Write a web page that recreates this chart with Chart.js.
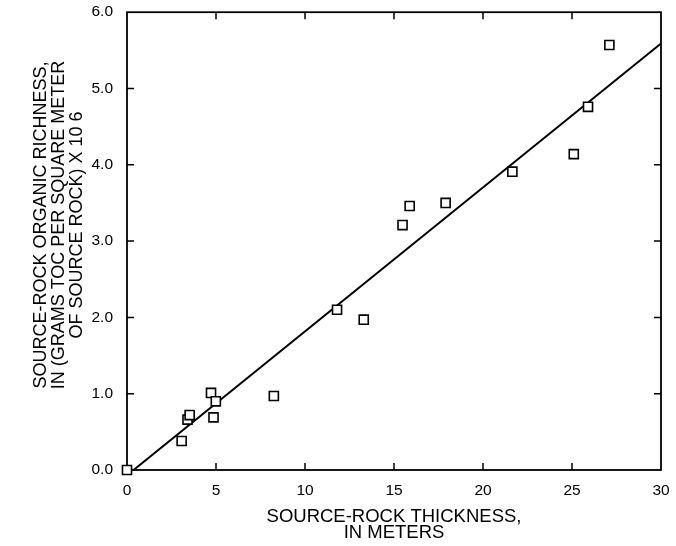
<!DOCTYPE html>
<html><head><meta charset="utf-8">
<script src="https://cdn.jsdelivr.net/npm/chart.js@4.4.0/dist/chart.umd.min.js"></script>
<style>html,body{margin:0;padding:0;background:#fff;}#wrap{width:676px;height:546px;}</style>
</head><body><div id="wrap"><canvas id="c" width="676" height="546"></canvas></div>
<script>
// Data
const thickness = [0, 3.07, 3.4, 3.52, 4.72, 4.86, 4.99, 8.25, 11.8, 13.3, 15.48, 15.88, 17.9, 21.65, 25.1, 25.9, 27.1];
const richness  = [0, 0.38, 0.66, 0.72, 1.01, 0.69, 0.90, 0.97, 2.1, 1.97, 3.21, 3.46, 3.50, 3.91, 4.14, 4.76, 5.57];
const fitX = [0.37, 30];
const fitY = [0, 5.59];
const xTicks = [0, 5, 10, 15, 20, 25, 30];
const yTicks = [0, 1, 2, 3, 4, 5, 6];
const xTitle = ['SOURCE-ROCK THICKNESS,', 'IN METERS'];
const yTitle = ['SOURCE-ROCK ORGANIC RICHNESS,', 'IN (GRAMS TOC PER SQUARE METER', 'OF SOURCE ROCK) X 10 6'];

const FONT = '"Liberation Sans", Arial, Helvetica, sans-serif';

const points = thickness.map((x, i) => ({x: x, y: richness[i]}));
const fitLine = fitX.map((x, i) => ({x: x, y: fitY[i]}));

const framePlugin = {
  id: 'frame',
  beforeDraw(chart) {
    const ctx = chart.ctx;
    ctx.save();
    ctx.fillStyle = '#fff';
    ctx.fillRect(0, 0, chart.width, chart.height);
    ctx.restore();
  },
  beforeDatasetsDraw(chart) {
    const ctx = chart.ctx;
    const a = chart.chartArea;
    const xs = chart.scales.x, ys = chart.scales.y;
    ctx.save();
    ctx.strokeStyle = '#000';
    ctx.lineWidth = 1.8;
    ctx.strokeRect(a.left, a.top, a.right - a.left, a.bottom - a.top);
    ctx.lineWidth = 1.5;
    const tl = 7;
    ctx.beginPath();
    xTicks.forEach(v => {
      const px = xs.getPixelForValue(v);
      if (v > xs.min && v < xs.max) {
        ctx.moveTo(px, a.bottom); ctx.lineTo(px, a.bottom - tl);
        ctx.moveTo(px, a.top); ctx.lineTo(px, a.top + tl);
      }
    });
    yTicks.forEach(v => {
      const py = ys.getPixelForValue(v);
      if (v > ys.min && v < ys.max) {
        ctx.moveTo(a.left, py); ctx.lineTo(a.left + tl, py);
        ctx.moveTo(a.right, py); ctx.lineTo(a.right - tl, py);
      }
    });
    ctx.stroke();

    // axis titles
    ctx.fillStyle = '#000';
    ctx.textAlign = 'center';
    ctx.textBaseline = 'alphabetic';
    ctx.font = '18.5px ' + FONT;
    const cx = (a.left + a.right) / 2;
    const xBase = [522, 538];
    xTitle.forEach((t, i) => ctx.fillText(t, cx, xBase[i]));

    ctx.font = '18px ' + FONT;
    const cy = 225;
    const yBase = [46, 64, 82];
    yTitle.forEach((t, i) => {
      ctx.save();
      ctx.translate(yBase[i], cy);
      ctx.rotate(-Math.PI / 2);
      ctx.fillText(t, 0, 0);
      ctx.restore();
    });
    ctx.restore();
  }
};

new Chart(document.getElementById('c'), {
  type: 'scatter',
  data: {
    datasets: [
      {
        data: points,
        pointStyle: 'rect',
        pointRadius: 6.4,
        pointHoverRadius: 6.4,
        pointBorderWidth: 1.6,
        pointBorderColor: '#000',
        pointBackgroundColor: '#fff',
        showLine: false,
        clip: false
      },
      {
        data: fitLine,
        showLine: true,
        borderColor: '#000',
        borderWidth: 2,
        pointRadius: 0,
        fill: false
      }
    ]
  },
  options: {
    responsive: false,
    animation: false,
    devicePixelRatio: 1,
    layout: { padding: { left: 0, right: 15, top: 0, bottom: 0 } },
    plugins: { legend: { display: false }, tooltip: { enabled: false } },
    scales: {
      x: {
        type: 'linear', min: 0, max: 30,
        afterBuildTicks: s => { s.ticks = xTicks.map(v => ({value: v})); },
        ticks: { color: '#000', font: { family: FONT, size: 15.5 }, padding: 3, maxRotation: 0,
                 callback: v => String(v) },
        grid: { display: false },
        border: { display: false },
        afterFit: s => { s.height = 76; }
      },
      y: {
        type: 'linear', min: 0, max: 6,
        afterBuildTicks: s => { s.ticks = yTicks.map(v => ({value: v})); },
        ticks: { color: '#000', font: { family: FONT, size: 15.5, lineHeight: 0.8 }, padding: 6,
                 callback: v => Number(v).toFixed(1) },
        grid: { display: false },
        border: { display: false },
        afterFit: s => { s.width = 127; }
      }
    }
  },
  plugins: [framePlugin]
});
</script>
</body></html>
